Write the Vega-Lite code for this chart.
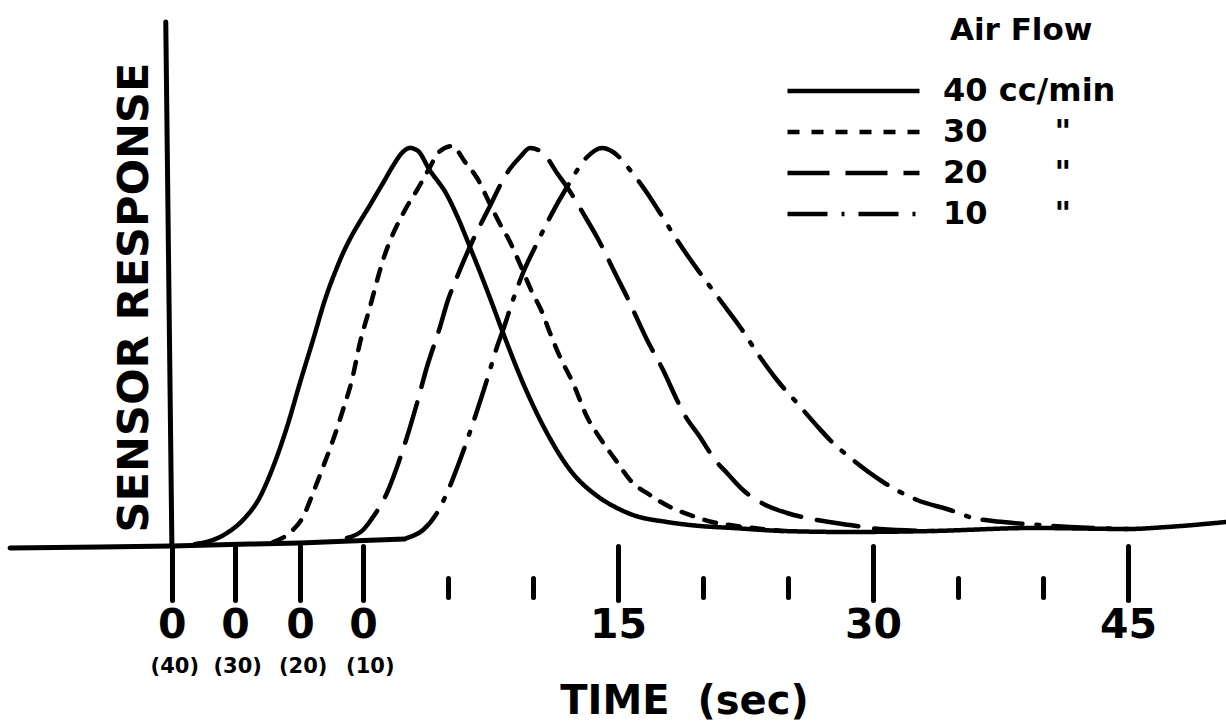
{
  "$schema": "https://vega.github.io/schema/vega-lite/v6.json",
  "width": 1226,
  "height": 723,
  "autosize": {"type": "none"},
  "padding": 0,
  "background": "white",
  "config": {"view": {"stroke": null}, "font": "DejaVu Sans", "axis": {"grid": false}},
  "datasets": {
    "baseline": [
      {"t": -20.76, "r": 0}, {"t": -15.47, "r": 0.25}, {"t": -11.24, "r": 0.5}, {"t": -6.65, "r": 1},
      {"t": -3.71, "r": 1.25}, {"t": -0.76, "r": 1.75}, {"t": 2.47, "r": 2.25}
    ],
    "curves": [
      {"flow": "40", "t": -9.88, "r": 1}, {"flow": "40", "t": -9.0, "r": 1.75}, {"flow": "40", "t": -8.0, "r": 3.75},
      {"flow": "40", "t": -7.06, "r": 7}, {"flow": "40", "t": -6.06, "r": 12.75}, {"flow": "40", "t": -5.29, "r": 20.25},
      {"flow": "40", "t": -4.47, "r": 30.25}, {"flow": "40", "t": -3.71, "r": 41.25}, {"flow": "40", "t": -2.94, "r": 52},
      {"flow": "40", "t": -2.24, "r": 62}, {"flow": "40", "t": -1.35, "r": 72}, {"flow": "40", "t": 0.59, "r": 87},
      {"flow": "40", "t": 1.18, "r": 91.25}, {"flow": "40", "t": 1.76, "r": 95.5}, {"flow": "40", "t": 2.29, "r": 98.75},
      {"flow": "40", "t": 2.76, "r": 100}, {"flow": "40", "t": 3.24, "r": 99.25}, {"flow": "40", "t": 3.88, "r": 94.75},
      {"flow": "40", "t": 4.94, "r": 88.25}, {"flow": "40", "t": 5.59, "r": 82.5}, {"flow": "40", "t": 6.29, "r": 75.25},
      {"flow": "40", "t": 6.88, "r": 69}, {"flow": "40", "t": 7.47, "r": 62.5}, {"flow": "40", "t": 8.24, "r": 53.75},
      {"flow": "40", "t": 9.41, "r": 41.25}, {"flow": "40", "t": 10.82, "r": 28.75}, {"flow": "40", "t": 12.18, "r": 19.5},
      {"flow": "40", "t": 13.94, "r": 12.5}, {"flow": "40", "t": 14.94, "r": 10}, {"flow": "40", "t": 15.88, "r": 8.25},
      {"flow": "40", "t": 17.88, "r": 6.5}, {"flow": "40", "t": 19.82, "r": 5.5}, {"flow": "40", "t": 21.76, "r": 5},
      {"flow": "40", "t": 24.71, "r": 4.25}, {"flow": "40", "t": 28.65, "r": 4}, {"flow": "40", "t": 33.53, "r": 4.25},
      {"flow": "40", "t": 39.41, "r": 5}, {"flow": "40", "t": 45.0, "r": 4.75}, {"flow": "40", "t": 47.29, "r": 5.25},
      {"flow": "40", "t": 50.76, "r": 6.5},

      {"flow": "30", "t": -5.29, "r": 1.5}, {"flow": "30", "t": -4.12, "r": 4.5}, {"flow": "30", "t": -3.53, "r": 7.75},
      {"flow": "30", "t": -2.94, "r": 13.75}, {"flow": "30", "t": -2.35, "r": 20.25}, {"flow": "30", "t": -1.76, "r": 27},
      {"flow": "30", "t": -1.18, "r": 34.5}, {"flow": "30", "t": -0.65, "r": 42}, {"flow": "30", "t": -0.18, "r": 51.25},
      {"flow": "30", "t": 0.41, "r": 60.25}, {"flow": "30", "t": 1.18, "r": 72}, {"flow": "30", "t": 2.47, "r": 84.5},
      {"flow": "30", "t": 3.18, "r": 89.5}, {"flow": "30", "t": 3.88, "r": 94.75}, {"flow": "30", "t": 4.47, "r": 99},
      {"flow": "30", "t": 5.24, "r": 100.5}, {"flow": "30", "t": 6.0, "r": 96.5}, {"flow": "30", "t": 6.71, "r": 92.5},
      {"flow": "30", "t": 7.47, "r": 86}, {"flow": "30", "t": 8.12, "r": 80.5}, {"flow": "30", "t": 8.59, "r": 77},
      {"flow": "30", "t": 9.18, "r": 71.5}, {"flow": "30", "t": 9.94, "r": 64}, {"flow": "30", "t": 10.53, "r": 59},
      {"flow": "30", "t": 11.0, "r": 53.75}, {"flow": "30", "t": 11.59, "r": 47.75}, {"flow": "30", "t": 12.35, "r": 41.25},
      {"flow": "30", "t": 13.18, "r": 32.75}, {"flow": "30", "t": 13.94, "r": 27.5}, {"flow": "30", "t": 14.94, "r": 21.5},
      {"flow": "30", "t": 15.71, "r": 17}, {"flow": "30", "t": 16.88, "r": 13.25}, {"flow": "30", "t": 18.06, "r": 10.25},
      {"flow": "30", "t": 19.24, "r": 8.25}, {"flow": "30", "t": 20.53, "r": 6.5}, {"flow": "30", "t": 21.59, "r": 5.75},
      {"flow": "30", "t": 24.71, "r": 4.25},

      {"flow": "20", "t": -0.94, "r": 2.5}, {"flow": "20", "t": 0.0, "r": 4.5}, {"flow": "20", "t": 0.59, "r": 7.75},
      {"flow": "20", "t": 1.41, "r": 13.75}, {"flow": "20", "t": 2.0, "r": 20.25}, {"flow": "20", "t": 2.59, "r": 27.75},
      {"flow": "20", "t": 3.18, "r": 36.25}, {"flow": "20", "t": 3.76, "r": 45.25}, {"flow": "20", "t": 4.53, "r": 55.25},
      {"flow": "20", "t": 5.0, "r": 62}, {"flow": "20", "t": 5.53, "r": 67.75}, {"flow": "20", "t": 6.47, "r": 77},
      {"flow": "20", "t": 7.47, "r": 85.5}, {"flow": "20", "t": 8.47, "r": 93.75}, {"flow": "20", "t": 9.24, "r": 97.75},
      {"flow": "20", "t": 9.82, "r": 100}, {"flow": "20", "t": 10.59, "r": 98.75}, {"flow": "20", "t": 11.41, "r": 93.75},
      {"flow": "20", "t": 12.0, "r": 90.25}, {"flow": "20", "t": 13.18, "r": 82}, {"flow": "20", "t": 13.76, "r": 77.75},
      {"flow": "20", "t": 14.94, "r": 67.75}, {"flow": "20", "t": 15.53, "r": 62.75}, {"flow": "20", "t": 16.71, "r": 52},
      {"flow": "20", "t": 17.65, "r": 44.5}, {"flow": "20", "t": 18.47, "r": 37}, {"flow": "20", "t": 18.82, "r": 34},
      {"flow": "20", "t": 19.82, "r": 27.75}, {"flow": "20", "t": 20.71, "r": 22}, {"flow": "20", "t": 21.41, "r": 18.75},
      {"flow": "20", "t": 22.35, "r": 14.5}, {"flow": "20", "t": 23.94, "r": 10.25}, {"flow": "20", "t": 24.94, "r": 8.75},
      {"flow": "20", "t": 26.71, "r": 7}, {"flow": "20", "t": 28.65, "r": 5.75}, {"flow": "20", "t": 30.41, "r": 4.75},
      {"flow": "20", "t": 33.53, "r": 4.25},

      {"flow": "10", "t": 2.59, "r": 2.5}, {"flow": "10", "t": 3.53, "r": 4.5}, {"flow": "10", "t": 4.35, "r": 8.75},
      {"flow": "10", "t": 4.94, "r": 13.75}, {"flow": "10", "t": 5.53, "r": 20}, {"flow": "10", "t": 5.88, "r": 24},
      {"flow": "10", "t": 6.47, "r": 31.25}, {"flow": "10", "t": 7.29, "r": 42}, {"flow": "10", "t": 7.88, "r": 50.25},
      {"flow": "10", "t": 8.24, "r": 54.5}, {"flow": "10", "t": 8.82, "r": 62}, {"flow": "10", "t": 9.41, "r": 68.75},
      {"flow": "10", "t": 10.24, "r": 76.25}, {"flow": "10", "t": 10.82, "r": 81.25}, {"flow": "10", "t": 12.0, "r": 90.25},
      {"flow": "10", "t": 13.18, "r": 97.75}, {"flow": "10", "t": 14.06, "r": 100}, {"flow": "10", "t": 14.71, "r": 99},
      {"flow": "10", "t": 15.71, "r": 94.5}, {"flow": "10", "t": 16.71, "r": 88.75}, {"flow": "10", "t": 17.47, "r": 83.75},
      {"flow": "10", "t": 18.47, "r": 77}, {"flow": "10", "t": 21.0, "r": 62}, {"flow": "10", "t": 22.18, "r": 55.25},
      {"flow": "10", "t": 23.35, "r": 47.75}, {"flow": "10", "t": 24.35, "r": 42}, {"flow": "10", "t": 25.53, "r": 36.25},
      {"flow": "10", "t": 26.76, "r": 30.25}, {"flow": "10", "t": 27.47, "r": 27}, {"flow": "10", "t": 28.82, "r": 22},
      {"flow": "10", "t": 30.59, "r": 16.5}, {"flow": "10", "t": 31.59, "r": 14}, {"flow": "10", "t": 32.59, "r": 12},
      {"flow": "10", "t": 34.53, "r": 9.5}, {"flow": "10", "t": 35.88, "r": 7.5}, {"flow": "10", "t": 37.06, "r": 6.75},
      {"flow": "10", "t": 38.24, "r": 6.25}, {"flow": "10", "t": 39.82, "r": 5.75}, {"flow": "10", "t": 41.59, "r": 5.25},
      {"flow": "10", "t": 45.0, "r": 4.75}
    ]
  },
  "layer": [
    {
      "data": {"name": "baseline"},
      "mark": {"type": "line", "color": "black", "strokeWidth": 5, "strokeCap": "round"},
      "encoding": {
        "x": {
          "field": "t", "type": "quantitative",
          "scale": {"domain": [-21.35, 50.76], "nice": false, "zero": false},
          "axis": {
            "orient": "bottom", "offset": -145, "values": [5, 10, 20, 25, 35, 40],
            "domain": false, "labels": false, "ticks": true, "tickSize": 19, "tickWidth": 5,
            "tickCap": "round", "tickColor": "black", "title": null, "grid": false
          }
        },
        "y": {
          "field": "r", "type": "quantitative",
          "scale": {"domain": [-43.75, 137], "nice": false, "zero": false},
          "axis": null
        }
      }
    },
    {
      "data": {"name": "curves"},
      "mark": {"type": "line", "color": "black", "strokeWidth": 4.5, "strokeCap": "round", "interpolate": "monotone"},
      "encoding": {
        "x": {
          "field": "t", "type": "quantitative",
          "scale": {"domain": [-21.35, 50.76], "nice": false, "zero": false},
          "axis": {
            "orient": "bottom", "offset": -177, "values": [-11.24, -7.53, -3.71, 0, 15, 30, 45],
            "labelExpr": "datum.value <= 0 ? '0' : datum.label",
            "domain": false, "ticks": true, "tickSize": 54, "tickWidth": 5, "tickCap": "round", "tickColor": "black",
            "labelFont": "DejaVu Sans", "labelFontSize": 41, "labelFontWeight": "bold", "labelColor": "black",
            "labelPadding": 5, "labelOverlap": false, "labelFlush": false, "labelBound": false,
            "title": "TIME\u00a0\u00a0(sec)", "titleFont": "DejaVu Sans", "titleFontSize": 40, "titleFontWeight": "bold",
            "titleColor": "black", "titleX": 684, "titleY": 155, "titleAlign": "center", "titleBaseline": "middle",
            "grid": false
          }
        },
        "y": {
          "field": "r", "type": "quantitative",
          "scale": {"domain": [-43.75, 137], "nice": false, "zero": false},
          "axis": {
            "orient": "left", "domain": false, "ticks": false, "labels": false, "grid": false,
            "title": "SENSOR RESPONSE", "titleFont": "DejaVu Sans", "titleFontSize": 43, "titleFontWeight": "bold",
            "titleColor": "black", "titleX": 134, "titleY": 297, "titleAngle": -90,
            "titleAlign": "center", "titleBaseline": "middle"
          }
        },
        "strokeDash": {
          "field": "flow", "type": "nominal",
          "scale": {"domain": ["40", "30", "20", "10"], "range": [[1, 0], [12, 12], [42, 16], [40, 14, 3, 14]]},
          "legend": {
            "title": "Air Flow", "orient": "none", "legendX": 785, "legendY": 16, "direction": "vertical",
            "symbolType": "stroke", "symbolSize": 17424, "symbolStrokeWidth": 4.5, "symbolStrokeColor": "black",
            "clipHeight": 32,
            "labelExpr": "datum.label == '40' ? '40 cc/min' : datum.label + '\u00a0\u00a0\u00a0\u00a0\u00a0\u00a0\"'",
            "labelFont": "DejaVu Sans", "labelFontSize": 32, "labelFontWeight": "bold", "labelColor": "black",
            "labelOffset": 21, "labelLimit": 0, "rowPadding": 9, "padding": 0,
            "titleFont": "DejaVu Sans", "titleFontSize": 31, "titleFontWeight": "bold", "titleColor": "black",
            "titleAnchor": "middle", "titleAlign": "left", "titlePadding": 28
          }
        }
      }
    },
    {
      "data": {"values": [{}]},
      "mark": {"type": "rule", "color": "black", "strokeWidth": 5, "strokeCap": "round"},
      "encoding": {
        "x": {
          "datum": -11.6, "type": "quantitative",
          "scale": {"domain": [-21.35, 50.76], "nice": false, "zero": false},
          "axis": {
            "orient": "bottom", "offset": -68, "values": [-11.1, -7.4, -3.55, 0.4],
            "labelExpr": "datum.value < -10 ? '(40)' : datum.value < -5 ? '(30)' : datum.value < -2 ? '(20)' : '(10)'",
            "domain": false, "ticks": false, "tickSize": 0, "labelPadding": 0,
            "labelFont": "DejaVu Sans", "labelFontSize": 21, "labelFontWeight": "bold", "labelColor": "black",
            "labelOverlap": false, "labelFlush": false, "labelBound": false, "title": null, "grid": false
          }
        },
        "y": {
          "datum": 131.5, "type": "quantitative",
          "scale": {"domain": [-43.75, 137], "nice": false, "zero": false},
          "axis": null
        },
        "x2": {"datum": -11.24},
        "y2": {"datum": 0.5}
      }
    }
  ],
  "resolve": {"axis": {"x": "independent", "y": "independent"}}
}
